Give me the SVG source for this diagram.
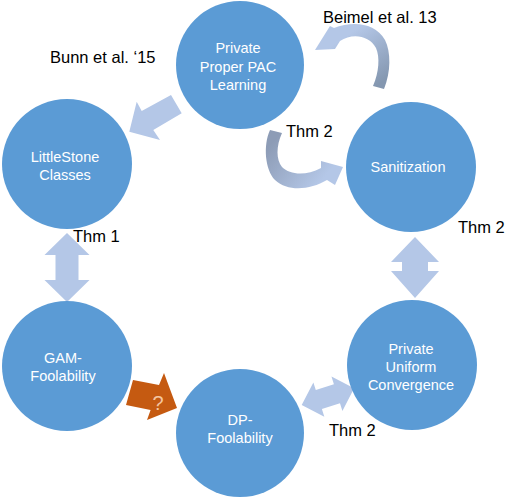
<svg xmlns="http://www.w3.org/2000/svg" width="506" height="498" viewBox="0 0 506 498">
<defs>
<style>
.node{fill:#5b9bd5}
.nt{font-family:"Liberation Sans",Arial,sans-serif;font-size:14.5px;fill:#ffffff;text-anchor:middle}
.lbl{font-family:"Liberation Sans",Arial,sans-serif;font-size:16.5px;fill:#000000}
.arr{fill:#b4c7e7}
</style>
<linearGradient id="gB" gradientUnits="userSpaceOnUse" x1="355" y1="30" x2="388" y2="78"><stop offset="0" stop-color="#b4c7e7"/><stop offset="1" stop-color="#8497b0"/></linearGradient>
<linearGradient id="gT" gradientUnits="userSpaceOnUse" x1="270" y1="145" x2="318" y2="185"><stop offset="0" stop-color="#8d9cb6"/><stop offset="1" stop-color="#b4c7e7"/></linearGradient>
</defs>
<rect width="506" height="498" fill="#ffffff"/>

<g id="connectors">
  <path id="beimel" d="M315,50 L330,26 L334,28 C352,21 375,22 385,40 C391,52 391,72 384,89 L373,86 C379,72 380,57 376,48 C369,35 352,33 340,41 L335,49 Z" fill="url(#gB)"/>
  <path id="thm2top" d="M270,130 L282,133 C276,146 276,160 282,167 C290,175 306,176 321,168 L321,161 L343,167 L335,185 L327,180 C310,190 288,192 275,180 C265,170 263,145 270,130 Z" fill="url(#gT)"/>
  <polygon id="bunn" class="arr" points="171,95 181.7,113.3 153.3,130 160,140 129.3,131.7 136.7,101.7 141.7,111"/>
  <polygon id="ls-gam" class="arr" points="67,233 89.5,255 78.5,255 78.5,280 89.5,280 67,302 44.5,280 55.5,280 55.5,255 44.5,255"/>
  <polygon id="san-puc" class="arr" points="415,237 439,262 428,262 428,271 439,271 415,298 391,271 402,271 402,262 391,262"/>
  <polygon id="puc-dp" class="arr" transform="translate(301.7,405) rotate(-17.7)" points="0,0 18,-18 18,-10 37,-10 37,-18 55,0 37,18 37,10 18,10 18,18"/>
  <polygon id="gam-dp" fill="#c55a11" points="133,380 159,385 164,373 177,408 147,420 150.6,410 126,405"/>
  <text x="158" y="410" font-family="Liberation Sans, Arial, sans-serif" font-size="20" fill="#f4c7a1" text-anchor="middle">?</text>
  <text class="lbl" x="323" y="23">Beimel et al. 13</text>
  <text class="lbl" x="50" y="63">Bunn et al. ‘15</text>
  <text class="lbl" x="286" y="137">Thm 2</text>
  <text class="lbl" x="73" y="242">Thm 1</text>
  <text class="lbl" x="458" y="233">Thm 2</text>
  <text class="lbl" x="329" y="436">Thm 2</text>
</g>

<g id="node-pppl">
  <circle class="node" cx="240" cy="65" r="64"/>
  <text class="nt" x="238" y="53">Private</text>
  <text class="nt" x="238" y="72">Proper PAC</text>
  <text class="nt" x="238" y="90">Learning</text>
</g>
<g id="node-littlestone">
  <circle class="node" cx="67" cy="164" r="65"/>
  <text class="nt" x="65" y="162">LittleStone</text>
  <text class="nt" x="65" y="180">Classes</text>
</g>
<g id="node-sanitization">
  <circle class="node" cx="411" cy="167" r="65"/>
  <text class="nt" x="408" y="172">Sanitization</text>
</g>
<g id="node-gam">
  <circle class="node" cx="67" cy="366" r="65"/>
  <text class="nt" x="63" y="363">GAM-</text>
  <text class="nt" x="63" y="381">Foolability</text>
</g>
<g id="node-puc">
  <circle class="node" cx="412" cy="365" r="65"/>
  <text class="nt" x="411" y="354">Private</text>
  <text class="nt" x="411" y="372">Uniform</text>
  <text class="nt" x="411" y="390">Convergence</text>
</g>
<g id="node-dp">
  <circle class="node" cx="240" cy="433" r="64"/>
  <text class="nt" x="240" y="425">DP-</text>
  <text class="nt" x="240" y="443">Foolability</text>
</g>
</svg>
